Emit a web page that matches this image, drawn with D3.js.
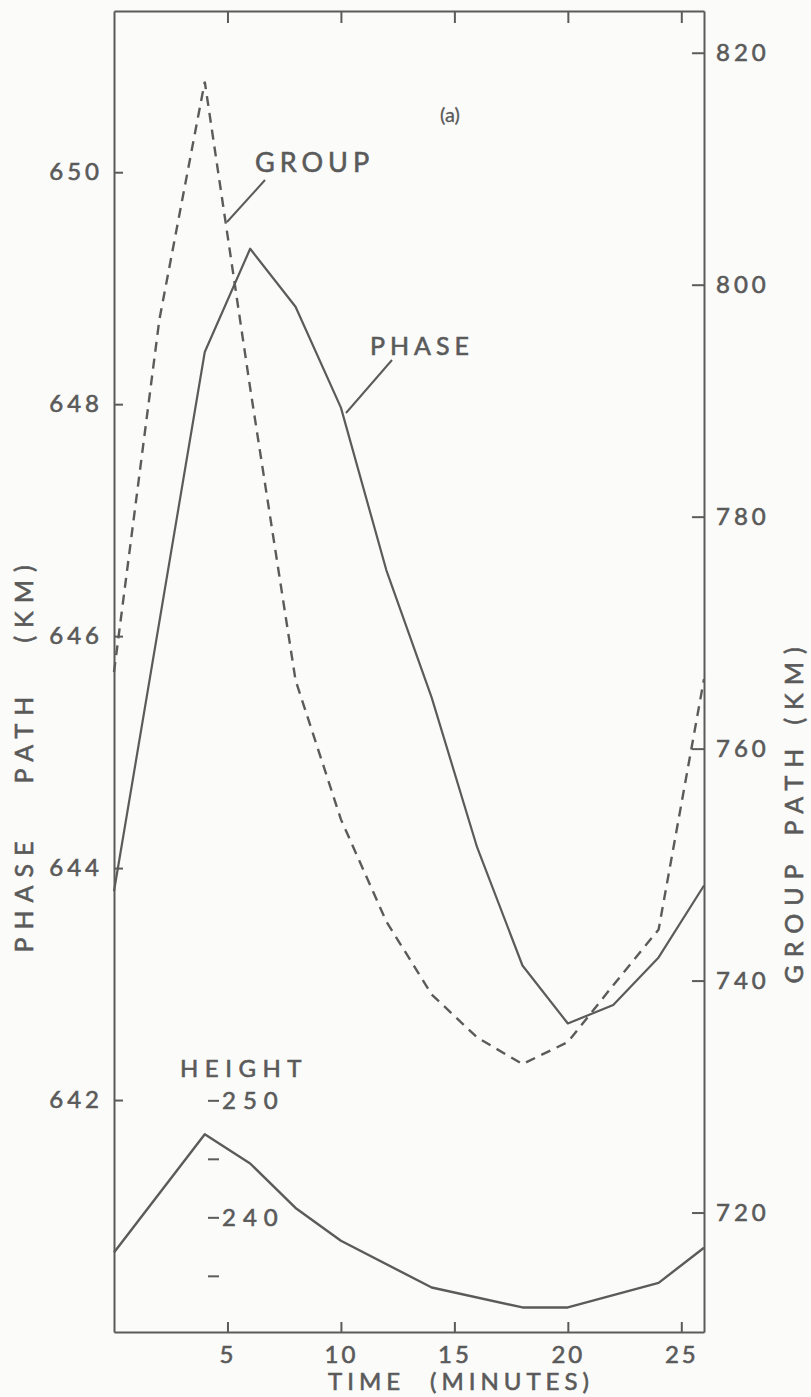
<!DOCTYPE html>
<html>
<head>
<meta charset="utf-8">
<script src="https://cdn.jsdelivr.net/npm/d3@7"></script>
<style>
body { margin: 0; background: #fbfbf9; }
svg text { font-family: Lato, "Noto Sans", sans-serif; fill: #5a5a5a; stroke: #5a5a5a; stroke-width: 0.6px; }
</style>
</head>
<body>
<div id="chart"></div>
<script>
// values
var phaseTimes = [0, 4, 6, 8, 10, 12, 14, 16, 18, 20, 22, 24, 26];
var phasePath = [643.8, 648.45, 649.34, 648.84, 647.97, 646.57, 645.47, 644.18, 643.16, 642.66, 642.82, 643.23, 643.85];

var groupTimes = [0, 2, 4, 6, 8, 10, 12, 14, 16, 18, 20, 22, 24, 26];
var groupPath = [766.6, 797.0, 817.5, 791.1, 765.9, 753.9, 745.1, 738.8, 735.1, 732.8, 734.7, 739.6, 744.4, 766.0];

var heightTimes = [0, 4, 6, 8, 10, 14, 18, 20, 24, 26];
var heightKm = [237.0, 247.1, 244.6, 240.8, 238.0, 234.0, 232.3, 232.3, 234.4, 237.4];

var timeTicks = [5, 10, 15, 20, 25];
var phaseTicks = [642, 644, 646, 648, 650];
var groupTicks = [720, 740, 760, 780, 800, 820];
var heightTicks = [235, 240, 245, 250];
var heightLabels = [240, 250];

(function () {
    var W = 811, H = 1397;
    var plotLeft = 114, plotRight = 704, plotTop = 11, plotBottom = 1332;
    var ink = "#5b5b5b";

    var svg = d3.select("#chart").append("svg").attr("width", W).attr("height", H);

    var x = d3.scaleLinear().domain([0, 26]).range([plotLeft, plotRight]);
    var yPhase = d3.scaleLinear().domain([640, 651.39]).range([plotBottom, plotTop]);
    var yGroup = d3.scaleLinear().domain([709.7, 823.6]).range([plotBottom, plotTop]);
    var yHeight = d3.scaleLinear().domain([230.2, 343.1]).range([plotBottom, plotTop]);

    function styleAxis(g, fontSize, spacing) {
        g.attr("font-family", null).attr("font-size", null);
        g.selectAll(".domain").attr("stroke", ink).attr("stroke-width", 2);
        g.selectAll(".tick line").attr("stroke", ink).attr("stroke-width", 2);
        g.selectAll(".tick text")
            .style("font-size", fontSize + "px")
            .style("letter-spacing", spacing + "px")
            .attr("fill", "#5a5a5a");
    }

    // frame: left / right / bottom / top axes
    var gLeft = svg.append("g").attr("transform", "translate(" + plotLeft + ",0)")
        .call(d3.axisLeft(yPhase).tickValues(phaseTicks).tickSizeInner(-9).tickSizeOuter(0).tickPadding(11).tickFormat(d3.format("d")));
    styleAxis(gLeft, 24, 4);

    var gRight = svg.append("g").attr("transform", "translate(" + plotRight + ",0)")
        .call(d3.axisRight(yGroup).tickValues(groupTicks).tickSizeInner(-12).tickSizeOuter(0).tickPadding(12).tickFormat(d3.format("d")));
    styleAxis(gRight, 24, 4);

    var gBottom = svg.append("g").attr("transform", "translate(0," + plotBottom + ")")
        .call(d3.axisBottom(x).tickValues(timeTicks).tickSizeInner(-10).tickSizeOuter(0).tickPadding(14));
    styleAxis(gBottom, 24, 3);

    var gTop = svg.append("g").attr("transform", "translate(0," + plotTop + ")")
        .call(d3.axisTop(x).tickValues(timeTicks).tickSizeInner(-12).tickSizeOuter(0).tickFormat(""));
    styleAxis(gTop, 24, 3);

    // inner height scale
    var gHeight = svg.append("g").attr("transform", "translate(208,0)")
        .call(d3.axisRight(yHeight).tickValues(heightTicks).tickSizeInner(11).tickSizeOuter(0).tickPadding(3)
            .tickFormat(function (d) { return heightLabels.indexOf(d) >= 0 ? d : ""; }));
    styleAxis(gHeight, 24, 7);
    gHeight.select(".domain").remove();

    // curves
    var linePhase = d3.line().x(function (d) { return x(d[0]); }).y(function (d) { return yPhase(d[1]); });
    var lineGroup = d3.line().x(function (d) { return x(d[0]); }).y(function (d) { return yGroup(d[1]); });
    var lineHeight = d3.line().x(function (d) { return x(d[0]); }).y(function (d) { return yHeight(d[1]); });

    svg.append("path").datum(d3.zip(phaseTimes, phasePath))
        .attr("d", linePhase).attr("fill", "none").attr("stroke", ink).attr("stroke-width", 2.2)
        .attr("stroke-linejoin", "round");

    svg.append("path").datum(d3.zip(groupTimes, groupPath))
        .attr("d", lineGroup).attr("fill", "none").attr("stroke", ink).attr("stroke-width", 2.4)
        .attr("stroke-dasharray", "10,7");

    svg.append("path").datum(d3.zip(heightTimes, heightKm))
        .attr("d", lineHeight).attr("fill", "none").attr("stroke", ink).attr("stroke-width", 2.4)
        .attr("stroke-linejoin", "round");

    // leader lines for the curve names
    svg.append("line").attr("x1", 265).attr("y1", 180).attr("x2", 227).attr("y2", 222)
        .attr("stroke", ink).attr("stroke-width", 2);
    svg.append("line").attr("x1", 392).attr("y1", 360).attr("x2", 346).attr("y2", 413)
        .attr("stroke", ink).attr("stroke-width", 2);

    // annotations
    svg.append("text").attr("x", 255).attr("y", 172).style("font-size", "27px").style("letter-spacing", "5px").text("GROUP");
    svg.append("text").attr("x", 370).attr("y", 355).style("font-size", "25px").style("letter-spacing", "5px").text("PHASE");
    svg.append("text").attr("x", 440).attr("y", 122).style("font-size", "20px").style("stroke-width", "0.3px").text("(a)");
    svg.append("text").attr("x", 180).attr("y", 1077).style("font-size", "24px").style("letter-spacing", "6.5px").text("HEIGHT");

    // axis titles
    svg.append("text").attr("x", 328).attr("y", 1390).style("font-size", "24px").style("letter-spacing", "5px").text("TIME");
    svg.append("text").attr("x", 430).attr("y", 1390).style("font-size", "24px").style("letter-spacing", "5px").text("(MINUTES)");

    function vword(cx, cy, txt) {
        svg.append("text").attr("transform", "translate(" + cx + "," + cy + ") rotate(-90)")
            .attr("text-anchor", "middle").attr("dy", "0.36em")
            .style("font-size", "25px").style("letter-spacing", "8px").text(txt);
    }
    vword(24, 893, "PHASE");
    vword(24, 736, "PATH");
    vword(24, 600, "(KM)");
    vword(794, 920, "GROUP");
    vword(794, 788, "PATH");
    vword(794, 682, "(KM)");
})();
</script>
</body>
</html>
